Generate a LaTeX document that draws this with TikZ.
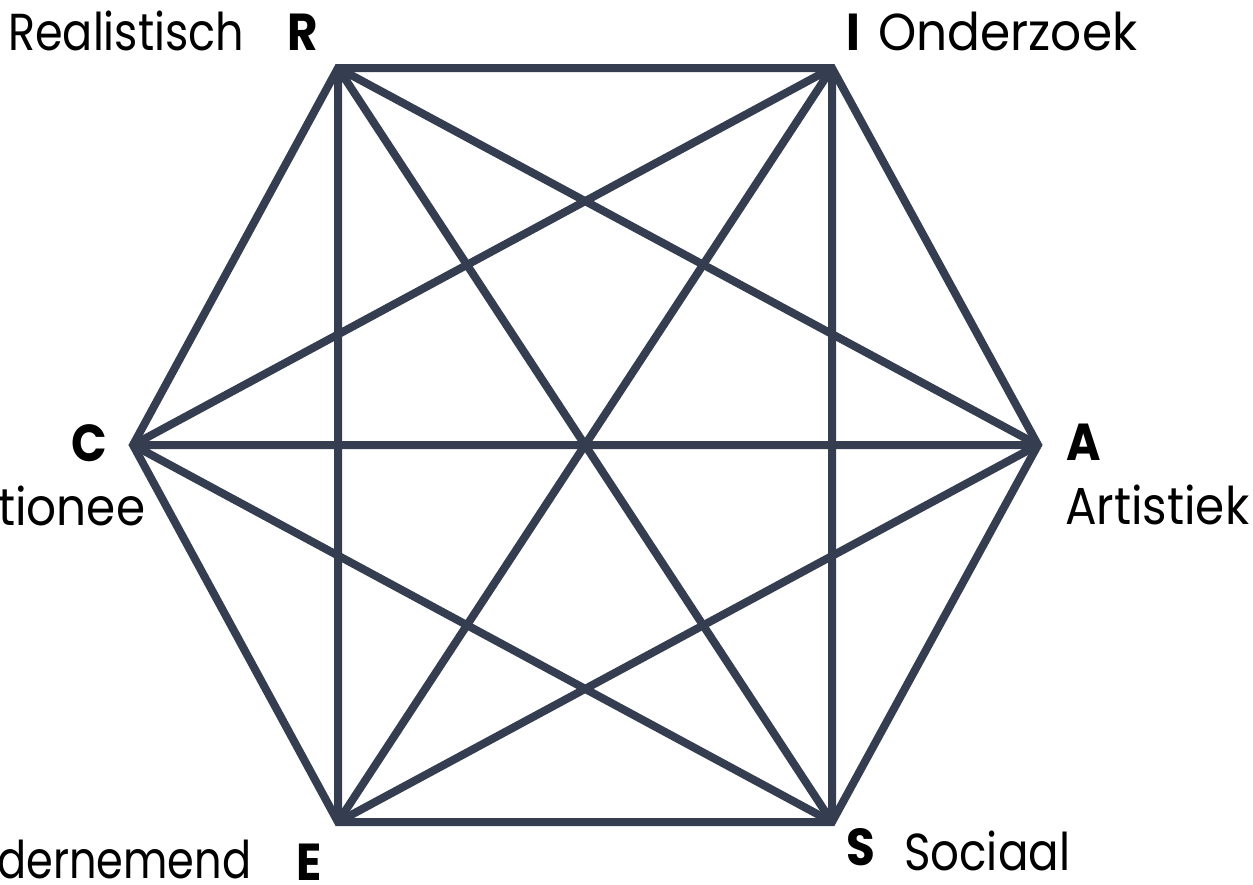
\documentclass[tikz,border=0pt]{standalone}
\usepackage{fontspec}
\setmainfont{Poppins}
\usepackage{graphicx}
\usepackage{xcolor}
\definecolor{hexline}{HTML}{343E50}
\newcommand{\narrow}[1]{\scalebox{0.9}[1]{#1}}
\newcommand{\fitto}[2]{\resizebox{#1}{\height}{#2}}

\begin{document}
\begin{tikzpicture}[
    x=1pt, y=-1pt,
    every node/.style={inner sep=0pt, font=\fontsize{52}{60}\selectfont},
    letter/.style={font=\fontsize{52}{60}\selectfont\bfseries},
    edge/.style={draw=hexline, line width=8pt, line join=miter}
]
\useasboundingbox (0,0) rectangle (1253,884);

\coordinate (R) at (338,68);
\coordinate (I) at (832,68);
\coordinate (A) at (1038,445);
\coordinate (S) at (832,822);
\coordinate (E) at (338,822);
\coordinate (C) at (133,445);

\draw[edge] (R) -- (I) -- (A) -- (S) -- (E) -- (C) -- cycle;
\draw[edge] (R) -- (A) (R) -- (S) (R) -- (E);
\draw[edge] (I) -- (S) (I) -- (E) (I) -- (C);
\draw[edge] (C) -- (A) (C) -- (S);
\draw[edge] (E) -- (A);

\node[letter, anchor=base west] (Rl) at (287,50) {\narrow{R}};
\node[anchor=base west] (Rt) at (8,50) {\fitto{236pt}{Realistisch}};
\node[letter, anchor=base west] (Il) at (846,50) {\narrow{I}};
\node[anchor=base west] (It) at (878,50) {\fitto{259pt}{Onderzoek}};
\node[letter, anchor=base west] (Al) at (1066,460) {\narrow{A}};
\node[anchor=base west] (At) at (1065,524) {\fitto{184pt}{Artistiek}};
\node[letter, anchor=base west] (Sl) at (846,865) {\narrow{S}};
\node[anchor=base west] (St) at (904,870) {\fitto{166pt}{Sociaal}};
\node[letter, anchor=base west] (El) at (296,880) {\narrow{E}};
\node[anchor=base west] (Et) at (-3,878) {\fitto{254pt}{dernemend}};
\node[letter, anchor=base west] (Cl) at (71,461) {\narrow{C}};
\node[anchor=base west] (Ct) at (-2,525) {\fitto{147pt}{tionee}};

\end{tikzpicture}
\end{document}
